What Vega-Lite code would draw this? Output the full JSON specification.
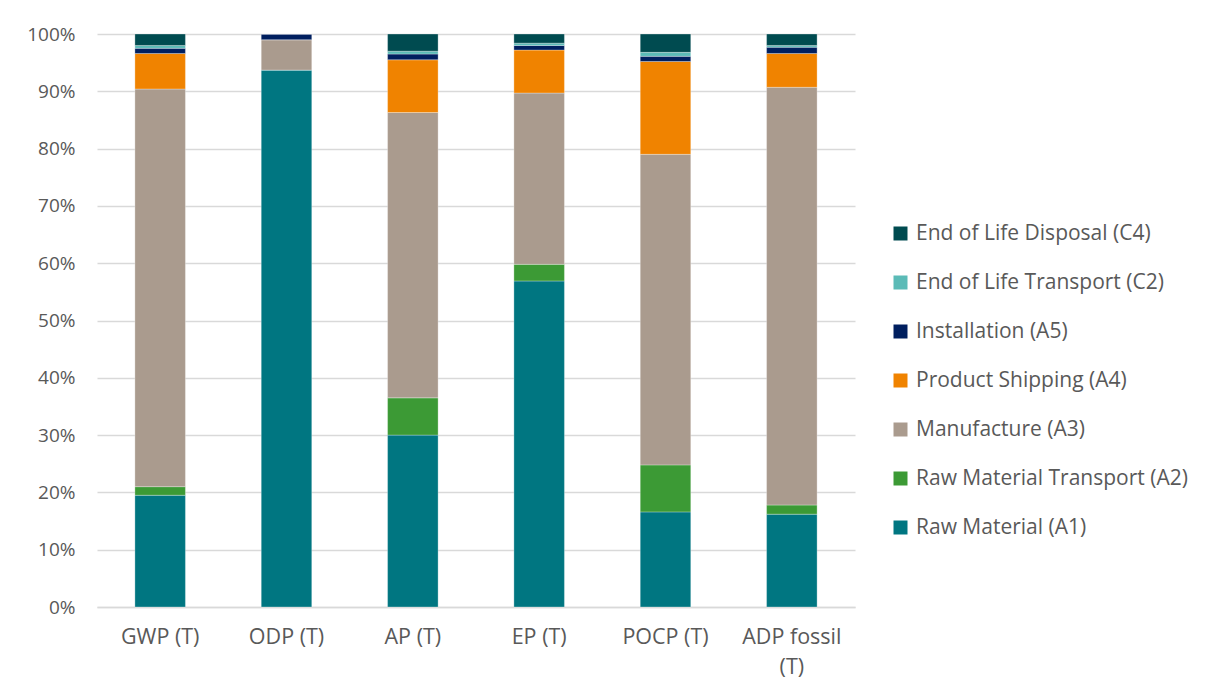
{
  "$schema": "https://vega.github.io/schema/vega-lite/v6.json",
  "width": 758,
  "height": 573,
  "autosize": {"type": "none"},
  "padding": {"left": 97, "top": 34, "right": 360, "bottom": 89},
  "background": "#ffffff",
  "config": {
    "font": "Open Sans",
    "view": {"stroke": null},
    "axis": {"labelColor": "#595959", "labelFont": "Open Sans", "titleColor": "#595959"},
    "legend": {"labelColor": "#595959", "labelFont": "Open Sans"}
  },
  "data": {
    "values": [
      {"category": "GWP (T)", "code": "A1", "stage": "Raw Material (A1)", "share": 19.5},
      {"category": "GWP (T)", "code": "A2", "stage": "Raw Material Transport (A2)", "share": 1.5},
      {"category": "GWP (T)", "code": "A3", "stage": "Manufacture (A3)", "share": 69.4},
      {"category": "GWP (T)", "code": "A4", "stage": "Product Shipping (A4)", "share": 6.2},
      {"category": "GWP (T)", "code": "A5", "stage": "Installation (A5)", "share": 0.9},
      {"category": "GWP (T)", "code": "C2", "stage": "End of Life Transport (C2)", "share": 0.5},
      {"category": "GWP (T)", "code": "C4", "stage": "End of Life Disposal (C4)", "share": 2.0},

      {"category": "ODP (T)", "code": "A1", "stage": "Raw Material (A1)", "share": 93.7},
      {"category": "ODP (T)", "code": "A2", "stage": "Raw Material Transport (A2)", "share": 0},
      {"category": "ODP (T)", "code": "A3", "stage": "Manufacture (A3)", "share": 5.3},
      {"category": "ODP (T)", "code": "A4", "stage": "Product Shipping (A4)", "share": 0},
      {"category": "ODP (T)", "code": "A5", "stage": "Installation (A5)", "share": 1.0},
      {"category": "ODP (T)", "code": "C2", "stage": "End of Life Transport (C2)", "share": 0},
      {"category": "ODP (T)", "code": "C4", "stage": "End of Life Disposal (C4)", "share": 0},

      {"category": "AP (T)", "code": "A1", "stage": "Raw Material (A1)", "share": 30.0},
      {"category": "AP (T)", "code": "A2", "stage": "Raw Material Transport (A2)", "share": 6.5},
      {"category": "AP (T)", "code": "A3", "stage": "Manufacture (A3)", "share": 49.8},
      {"category": "AP (T)", "code": "A4", "stage": "Product Shipping (A4)", "share": 9.2},
      {"category": "AP (T)", "code": "A5", "stage": "Installation (A5)", "share": 1.0},
      {"category": "AP (T)", "code": "C2", "stage": "End of Life Transport (C2)", "share": 0.5},
      {"category": "AP (T)", "code": "C4", "stage": "End of Life Disposal (C4)", "share": 3.0},

      {"category": "EP (T)", "code": "A1", "stage": "Raw Material (A1)", "share": 56.9},
      {"category": "EP (T)", "code": "A2", "stage": "Raw Material Transport (A2)", "share": 2.9},
      {"category": "EP (T)", "code": "A3", "stage": "Manufacture (A3)", "share": 29.9},
      {"category": "EP (T)", "code": "A4", "stage": "Product Shipping (A4)", "share": 7.5},
      {"category": "EP (T)", "code": "A5", "stage": "Installation (A5)", "share": 0.8},
      {"category": "EP (T)", "code": "C2", "stage": "End of Life Transport (C2)", "share": 0.4},
      {"category": "EP (T)", "code": "C4", "stage": "End of Life Disposal (C4)", "share": 1.6},

      {"category": "POCP (T)", "code": "A1", "stage": "Raw Material (A1)", "share": 16.6},
      {"category": "POCP (T)", "code": "A2", "stage": "Raw Material Transport (A2)", "share": 8.2},
      {"category": "POCP (T)", "code": "A3", "stage": "Manufacture (A3)", "share": 54.2},
      {"category": "POCP (T)", "code": "A4", "stage": "Product Shipping (A4)", "share": 16.2},
      {"category": "POCP (T)", "code": "A5", "stage": "Installation (A5)", "share": 0.9},
      {"category": "POCP (T)", "code": "C2", "stage": "End of Life Transport (C2)", "share": 0.7},
      {"category": "POCP (T)", "code": "C4", "stage": "End of Life Disposal (C4)", "share": 3.2},

      {"category": "ADP fossil (T)", "code": "A1", "stage": "Raw Material (A1)", "share": 16.2},
      {"category": "ADP fossil (T)", "code": "A2", "stage": "Raw Material Transport (A2)", "share": 1.6},
      {"category": "ADP fossil (T)", "code": "A3", "stage": "Manufacture (A3)", "share": 72.9},
      {"category": "ADP fossil (T)", "code": "A4", "stage": "Product Shipping (A4)", "share": 5.9},
      {"category": "ADP fossil (T)", "code": "A5", "stage": "Installation (A5)", "share": 1.1},
      {"category": "ADP fossil (T)", "code": "C2", "stage": "End of Life Transport (C2)", "share": 0.3},
      {"category": "ADP fossil (T)", "code": "C4", "stage": "End of Life Disposal (C4)", "share": 2.0}
    ]
  },
  "mark": {"type": "bar", "stroke": "#ffffff", "strokeWidth": 0.6, "strokeOpacity": 0.5},
  "encoding": {
    "x": {
      "field": "category",
      "type": "nominal",
      "sort": null,
      "scale": {"paddingInner": 0.6, "paddingOuter": 0.3},
      "axis": {
        "title": null,
        "labelAngle": 0,
        "labelFontSize": 21.5,
        "ticks": false,
        "labelPadding": 19,
        "domainColor": "#D9D9D9",
        "domainWidth": 1.5,
        "labelLineHeight": 30,
        "labelExpr": "datum.label == 'ADP fossil (T)' ? ['ADP fossil', '(T)'] : datum.label"
      }
    },
    "y": {
      "field": "share",
      "type": "quantitative",
      "stack": "normalize",
      "scale": {"domain": [0, 1]},
      "axis": {
        "title": null,
        "format": ".0%",
        "values": [0, 0.1, 0.2, 0.3, 0.4, 0.5, 0.6, 0.7, 0.8, 0.9, 1],
        "labelOverlap": false,
        "labelFontSize": 19,
        "ticks": false,
        "domain": false,
        "labelPadding": 22,
        "gridColor": "#D9D9D9",
        "gridWidth": 1.5
      }
    },
    "color": {
      "field": "stage",
      "type": "nominal",
      "scale": {
        "domain": ["Raw Material (A1)", "Raw Material Transport (A2)", "Manufacture (A3)", "Product Shipping (A4)", "Installation (A5)", "End of Life Transport (C2)", "End of Life Disposal (C4)"],
        "range": ["#007681", "#3C9A35", "#AA9B8E", "#F08300", "#001F5F", "#5BBBB7", "#004B50"]
      },
      "legend": {
        "title": null,
        "orient": "none",
        "legendX": 793,
        "legendY": 189,
        "values": ["End of Life Disposal (C4)", "End of Life Transport (C2)", "Installation (A5)", "Product Shipping (A4)", "Manufacture (A3)", "Raw Material Transport (A2)", "Raw Material (A1)"],
        "symbolType": "square",
        "symbolSize": 196,
        "symbolStrokeWidth": 0,
        "labelFontSize": 21,
        "labelLimit": 400,
        "labelOffset": 5,
        "rowPadding": 27
      }
    },
    "order": {"field": "code", "type": "ordinal", "sort": "ascending"}
  }
}
